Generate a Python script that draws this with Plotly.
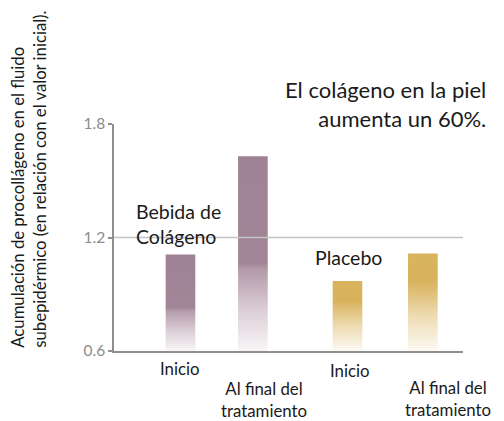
import plotly.graph_objects as go

# ---- data ----
groups = ["Bebida de<br>Colágeno", "Placebo"]
categories = ["Inicio", "Al final del<br>tratamiento", "Inicio", "Al final del<br>tratamiento"]
bar_group = [0, 0, 1, 1]
values = [1.11, 1.63, 0.97, 1.115]
y_ticks = [0.6, 1.2, 1.8]
y_tick_labels = ["0.6", "1.2", "1.8"]
y_title = "Acumulación de procollágeno en el fluido<br>subepidérmico (en relación con el valor inicial)."
callout = "El colágeno en la piel<br>aumenta un 60%."

# ---- layout / style ----
FONT = "Lato"
bar_x = [0.1905, 0.398, 0.669, 0.885]
bar_w = 0.085
y_min, y_max = 0.6, 1.8
group_scales = [
    [[0, "#f8f5f7"], [0.2, "#ddd0d8"], [0.42, "#b39aa9"], [0.45, "#a28597"], [1, "#a08296"]],
    [[0, "#fdfaf3"], [0.35, "#eedcb4"], [0.72, "#d8b25b"], [1, "#d9b45f"]],
]
group_label_pos = [(0.0575, 0.559), (0.5705, 0.414)]
cat_label_pos = [(0.189, -0.075), (0.43, -0.214), (0.676, -0.084), (0.957, -0.208)]

# page body has an 8px margin, so the figure is 8px smaller and margins shifted
fig = go.Figure()
for i, v in enumerate(values):
    c = bar_x[i]
    fig.add_trace(go.Scatter(
        x=[c - bar_w / 2, c + bar_w / 2, c + bar_w / 2, c - bar_w / 2, c - bar_w / 2],
        y=[y_min, y_min, v, v, y_min],
        mode="lines", fill="toself", line=dict(width=0),
        fillgradient=dict(type="vertical", colorscale=group_scales[bar_group[i]]),
        hoverinfo="skip", showlegend=False,
    ))

annotations = []
for g, (gx, gy) in zip(groups, group_label_pos):
    annotations.append(dict(text=g, xref="paper", yref="paper", x=gx, y=gy,
                            xanchor="left", yanchor="middle", align="left",
                            showarrow=False, font=dict(family=FONT, size=19.5, color="#1a1a1a")))
for cat, (cx, cy) in zip(categories, cat_label_pos):
    annotations.append(dict(text=cat, xref="paper", yref="paper", x=cx, y=cy,
                            xanchor="center", yanchor="middle", align="center",
                            showarrow=False, font=dict(family=FONT, size=16.8, color="#1a1a1a")))
annotations.append(dict(text=callout, xref="paper", yref="paper", x=1.0716, y=1.086,
                        xanchor="right", yanchor="middle", align="right",
                        showarrow=False, font=dict(family=FONT, size=22, color="#1a1a1a")))
annotations.append(dict(text=y_title, xref="paper", yref="paper", x=-0.242, y=0.757,
                        xanchor="center", yanchor="middle", align="left", textangle=-90,
                        showarrow=False, font=dict(family=FONT, size=16.7, color="#1a1a1a")))

fig.update_layout(
    width=496, height=413,
    margin=dict(l=106, r=41, t=116, b=70),
    paper_bgcolor="white", plot_bgcolor="white",
    annotations=annotations,
    shapes=[dict(type="line", xref="paper", yref="y", x0=0, x1=1, y0=1.2, y1=1.2,
                 line=dict(color="#c4c4c4", width=1.5), layer="above")],
    xaxis=dict(range=[0, 1], showline=True, linecolor="#8f8f8f", linewidth=1.5,
               showticklabels=False, ticks="", showgrid=False, zeroline=False, fixedrange=True),
    yaxis=dict(range=[y_min, y_max], tickvals=y_ticks, ticktext=y_tick_labels,
               showline=True, linecolor="#8f8f8f", linewidth=1.5,
               ticks="outside", ticklen=4, tickcolor="#8f8f8f", tickwidth=1.5,
               tickfont=dict(family=FONT, size=15.5, color="#8c8c8c"),
               showgrid=False, zeroline=False, fixedrange=True),
)

fig.write_html("out.html")
